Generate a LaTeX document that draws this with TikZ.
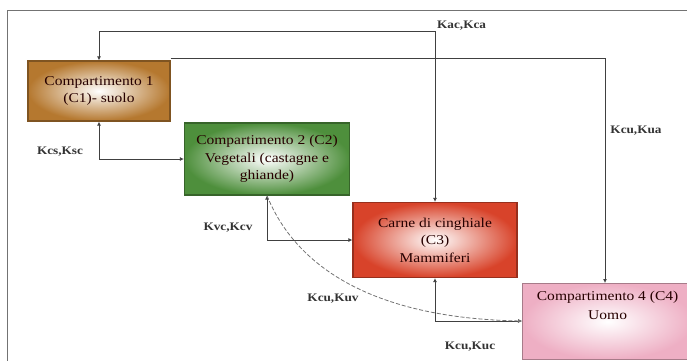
\documentclass[tikz,border=0pt]{standalone}
\usepackage{fontspec}
\setmainfont{Liberation Serif}
\newfontfamily\boxfont[FakeStretch=1.15]{Liberation Serif}
\usetikzlibrary{arrows.meta}
\definecolor{cone}{HTML}{B5782F}
\definecolor{ctwo}{HTML}{4E8F3C}
\definecolor{cthree}{HTML}{D8432A}
\definecolor{cfour}{HTML}{EEAFC4}
\begin{document}
\begin{tikzpicture}[x=1pt,y=-1pt,
  compbox/.style={draw=#1!70!black, line width=1.2pt, inner color=white, outer color=#1,
    align=center, font=\boxfont\fontsize{13.5}{17.5}\selectfont, text=black!85!red, inner sep=0pt},
  link/.style={draw=black!75, line width=0.8pt},
  tip/.style={-{Latex[length=4pt,width=4pt]}},
  lbl/.style={font=\boxfont\fontsize{11.5}{13}\selectfont\bfseries, text=black!80, inner sep=1pt},
  dashlink/.style={draw=black!55, line width=0.8pt, dash pattern=on 4pt off 2pt}]
\useasboundingbox (0,0) rectangle (687,360);
\draw[black!55, line width=0.8pt] (7,10) rectangle (700,372);

% compartments
\node[compbox=cone, minimum width=142pt, minimum height=60pt] (c1) at (99,91)
  {Compartimento 1\\(C1)- suolo};
\node[compbox=ctwo, minimum width=165pt, minimum height=72pt] (c2) at (267,159)
  {Compartimento 2 (C2)\\Vegetali (castagne e\\ghiande)};
\node[compbox=cthree, minimum width=164pt, minimum height=75pt] (c3) at (435,240)
  {Carne di cinghiale\\(C3)\\Mammiferi};
\node[compbox=cfour, minimum width=170pt, minimum height=76pt, anchor=north west,
      font=\boxfont\fontsize{13.5}{19}\selectfont] (c4) at (522,283)
  {Compartimento 4 (C4)\\Uomo\\[14pt]};

% helper points
\coordinate (topL) at (c1.north |- 0,31);
\coordinate (topR) at (c3.north |- 0,31);
\coordinate (runR) at (605,58);
\coordinate (lowA) at (c1.south |- c2.west);
\coordinate (midA) at (c2.south |- c3.west);
\coordinate (c4in) at (c4.west |- 0,321);
\coordinate (botA) at (c3.south |- c4in);

% connectors
\draw[link,tip] (topR) -- (topL) -- (c1.north);
\draw[link,tip] (topL) -- (topR) -- (c3.north);
\draw[link,tip] (c1.north east |- runR) -- (runR) -- (runR |- c4.north);
\draw[link,tip] (lowA) -- (c1.south);
\draw[link,tip] (lowA) -- (c2.west);
\draw[link,tip] (midA) -- (c2.south);
\draw[link,tip] (midA) -- (c3.west);
\draw[link,tip] (botA) -- (c3.south);
\draw[link,tip] (botA) -- (c4in);
\draw[dashlink,-{Latex[length=4pt,width=4pt]}] (c2.south) .. controls (295,265) and (370,318) .. (c4in);

% rate constants
\node[lbl, anchor=west] (k1) at (436,26) {Kac,Kca};
\node[lbl] (k2) at (60,152) {Kcs,Ksc};
\node[lbl] (k3) at (228,228) {Kvc,Kcv};
\node[lbl] (k4) at (333,299) {Kcu,Kuv};
\node[lbl] (k5) at (470,347) {Kcu,Kuc};
\node[lbl] (k6) at (636,131) {Kcu,Kua};
\end{tikzpicture}
\end{document}
